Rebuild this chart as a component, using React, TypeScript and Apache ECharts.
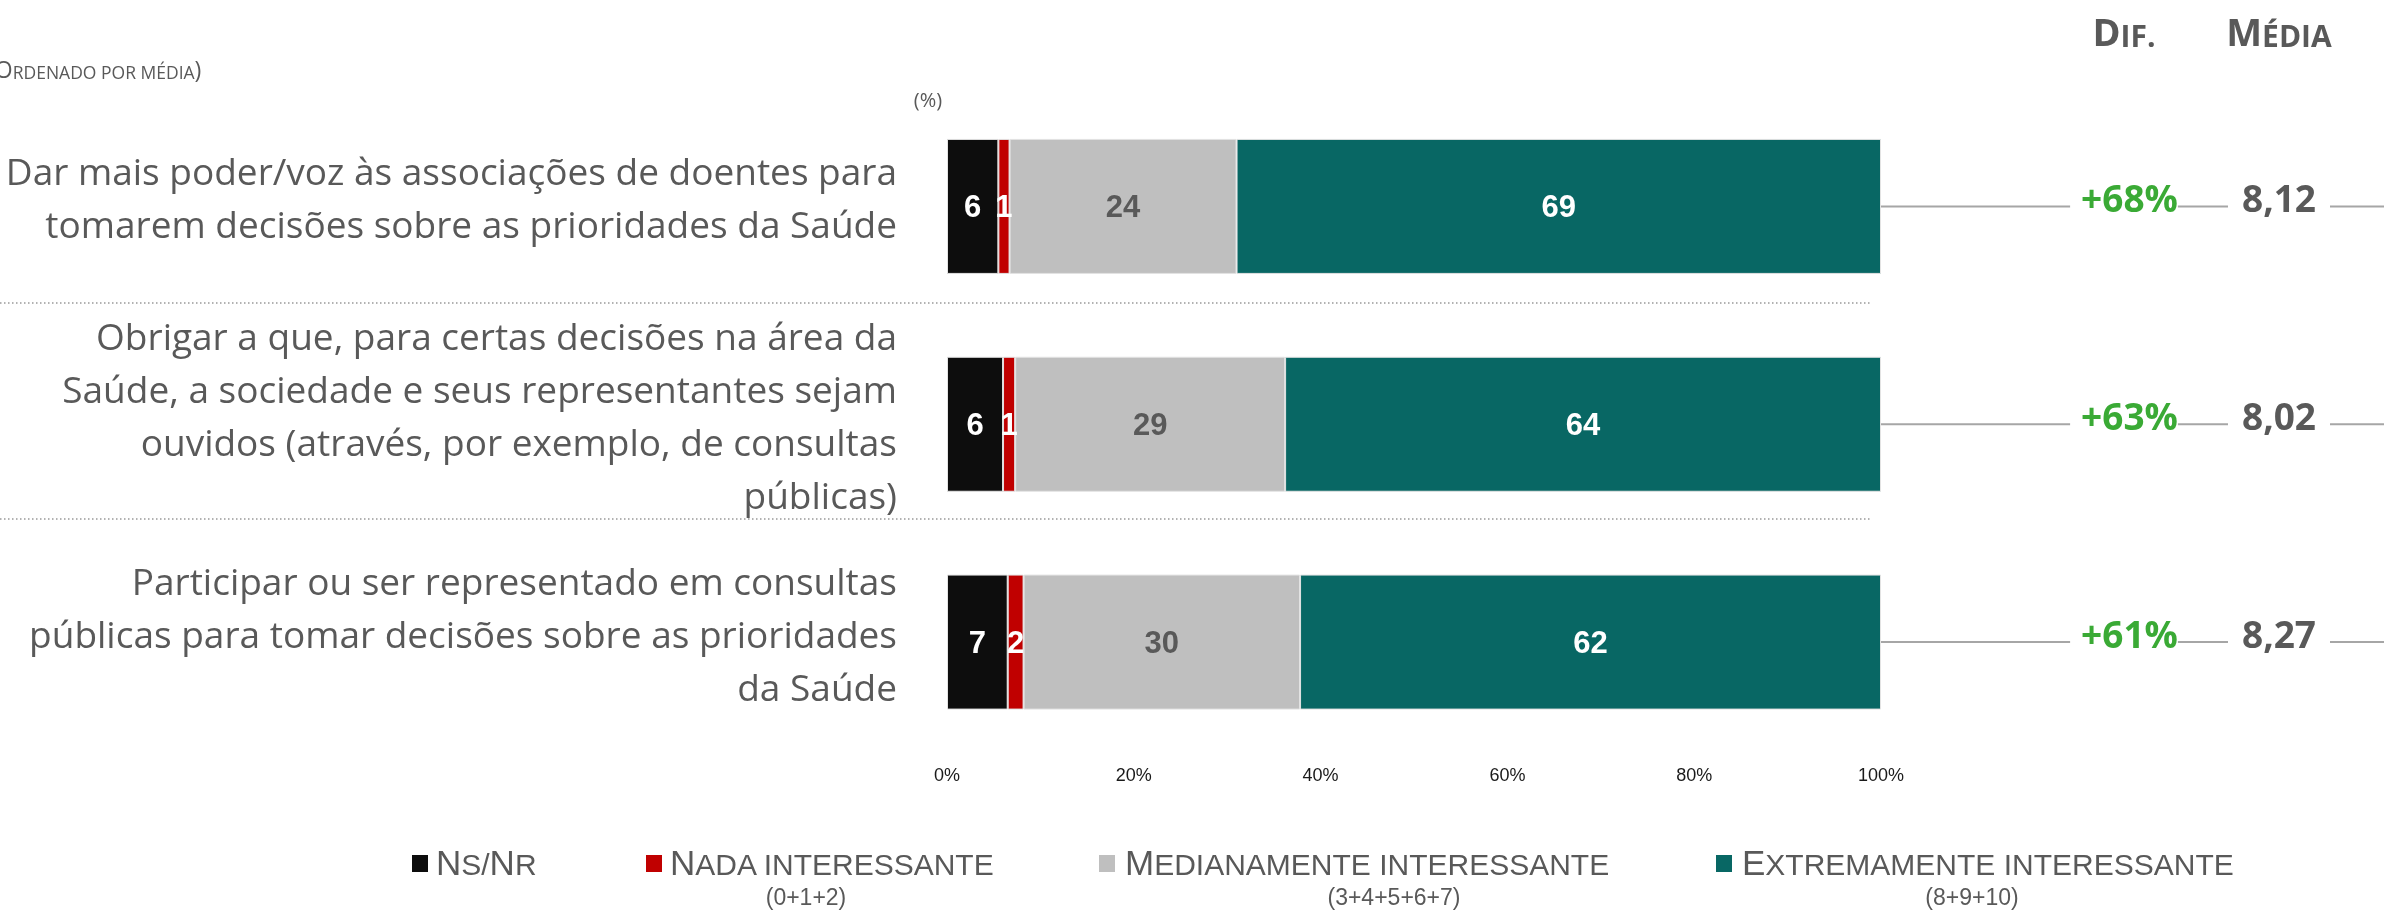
import React, { useEffect, useRef } from "react";
import * as echarts from "echarts";

// ---------- data ----------
const categoryLines: string[][] = [
  ["Dar mais poder/voz às associações de doentes para", "tomarem decisões sobre as prioridades da Saúde"],
  [
    "Obrigar a que, para certas decisões na área da",
    "Saúde, a sociedade e seus representantes sejam",
    "ouvidos (através, por exemplo, de consultas",
    "públicas)",
  ],
  ["Participar ou ser representado em consultas", "públicas para tomar decisões sobre as prioridades", "da Saúde"],
];
const categories = categoryLines.map((l) => l.join(" "));

const seriesNames = ["Ns/Nr", "Nada interessante", "Medianamente interessante", "Extremamente interessante"];
const nsnrValues = [5.5, 6.0, 6.5];
const nadaValues = [1.2, 1.3, 1.7];
const medianaValues = [24.3, 28.9, 29.6];
const extremaValues = [69.0, 63.8, 62.2];

const nsnrLabels = [6, 6, 7];
const nadaLabels = [1, 1, 2];
const medianaLabels = [24, 29, 30];
const extremaLabels = [69, 64, 62];

const difValues = ["+68%", "+63%", "+61%"];
const mediaValues = ["8,12", "8,02", "8,27"];
const xTicks = [0, 20, 40, 60, 80, 100];

const legendSubs = ["", "(0+1+2)", "(3+4+5+6+7)", "(8+9+10)"];

// ---------- styles ----------
const colors = ["#0d0d0d", "#c00000", "#bfbfbf", "#086764"];
const labelColors = ["#ffffff", "#ffffff", "#595959", "#ffffff"];
const GRAY_TEXT = "#595959";

export default function App() {
  const ref = useRef<HTMLDivElement>(null);

  useEffect(() => {
    if (!ref.current) return;
    const chart = echarts.init(ref.current, null, { renderer: "svg" });

    const valueSets = [nsnrValues, nadaValues, medianaValues, extremaValues];
    const labelSets = [nsnrLabels, nadaLabels, medianaLabels, extremaLabels];

    const series = seriesNames.map((name, si) => ({
      name,
      type: "bar",
      stack: "total",
      barWidth: 135,
      data: valueSets[si],
      itemStyle: { color: colors[si], borderColor: "#e3e3e3", borderWidth: 1 },
      label: {
        show: true,
        position: "inside",
        formatter: (p: any) => String(labelSets[si][p.dataIndex]),
        color: labelColors[si],
        fontFamily: "Liberation Sans",
        fontWeight: "bold",
        fontSize: 31,
      },
    }));

    chart.setOption({
      animation: false,
      grid: { left: 947, right: 503, top: 97.5, bottom: 161, containLabel: false },
      legend: { show: false },
      xAxis: {
        type: "value",
        min: xTicks[0],
        max: xTicks[xTicks.length - 1],
        interval: 20,
        axisLine: { show: false },
        axisTick: { show: false },
        splitLine: { show: false },
        axisLabel: {
          formatter: "{value}%",
          fontFamily: "Liberation Sans",
          fontSize: 18,
          color: "#1a1a1a",
          margin: 15,
        },
      },
      yAxis: {
        type: "category",
        inverse: true,
        data: categories,
        axisLine: { show: false },
        axisTick: { show: false },
        splitLine: { show: false },
        axisLabel: {
          interval: 0,
          margin: 50,
          fontFamily: "Open Sans",
          fontSize: 37,
          lineHeight: 53,
          color: GRAY_TEXT,
          align: "right",
          rich: { sp: { fontSize: 8, lineHeight: 18 } },
          formatter: (_v: string, i: number) => categoryLines[i].join("\n") + "\n{sp| }",
        },
      },
      series,
    });

    const xEnd = chart.convertToPixel({ xAxisIndex: 0 }, 100) as number;
    const rowYs = categories.map((_, i) => chart.convertToPixel({ yAxisIndex: 0 }, i) as number);

    const graphic: any[] = [];

    const capsRich = (big: number, small: number, color: string, family: string, weight: string) => ({
      a: { fontSize: big, lineHeight: big, fontFamily: family, fontWeight: weight, fill: color, verticalAlign: "bottom" },
      b: { fontSize: small, lineHeight: big, fontFamily: family, fontWeight: weight, fill: color, verticalAlign: "bottom" },
    });

    // header small caps
    graphic.push({
      type: "text",
      z: 10,
      style: {
        text: "{a|D}{b|IF.}",
        rich: capsRich(38, 30, GRAY_TEXT, "Open Sans", "bold"),
        x: 2124,
        y: 31,
        align: "center",
        verticalAlign: "middle",
      },
    });
    graphic.push({
      type: "text",
      z: 10,
      style: {
        text: "{a|M}{b|ÉDIA}",
        rich: capsRich(38, 30, GRAY_TEXT, "Open Sans", "bold"),
        x: 2279,
        y: 31,
        align: "center",
        verticalAlign: "middle",
      },
    });

    // subtitle
    graphic.push({
      type: "text",
      z: 10,
      style: {
        text: "{a|(O}{b|RDENADO POR MÉDIA}{a|)}",
        rich: capsRich(23, 17.5, GRAY_TEXT, "Open Sans", "normal"),
        x: -12,
        y: 69,
        align: "left",
        verticalAlign: "middle",
      },
    });

    // (%)
    graphic.push({
      type: "text",
      z: 10,
      style: {
        text: "(%)",
        x: 928,
        y: 99,
        align: "center",
        verticalAlign: "middle",
        fontFamily: "Open Sans",
        fontSize: 20,
        fill: GRAY_TEXT,
      },
    });

    // dotted separators
    [303, 519].forEach((y) => {
      graphic.push({
        type: "line",
        z: 1,
        shape: { x1: 0, y1: y, x2: 1870, y2: y },
        style: { stroke: "#999999", lineWidth: 1.5, lineDash: [1.5, 2.5] },
      });
    });

    // connectors + dif + média
    rowYs.forEach((y, i) => {
      graphic.push({
        type: "line",
        z: 1,
        shape: { x1: xEnd, y1: y, x2: 2384, y2: y },
        style: { stroke: "#a6a6a6", lineWidth: 2 },
      });
      graphic.push({
        type: "text",
        z: 10,
        style: {
          text: difValues[i],
          x: 2124,
          y: y - 9,
          align: "center",
          verticalAlign: "middle",
          fontFamily: "Open Sans",
          fontWeight: "bold",
          fontSize: 37,
          fill: "#3aaa35",
          backgroundColor: "#ffffff",
          padding: [0, 0, 0, 11],
        },
      });
      graphic.push({
        type: "text",
        z: 10,
        style: {
          text: mediaValues[i],
          x: 2279,
          y: y - 9,
          align: "center",
          verticalAlign: "middle",
          fontFamily: "Open Sans",
          fontWeight: "bold",
          fontSize: 37,
          fill: GRAY_TEXT,
          backgroundColor: "#ffffff",
          padding: [0, 14, 0, 14],
        },
      });
    });

    // legend
    const legendSquares = [412, 646, 1099, 1716];
    const legendTextX = [436, 670, 1125, 1742];
    const legendTexts = [
      "{a|N}{b|S/}{a|N}{b|R}",
      "{a|N}{b|ADA INTERESSANTE}",
      "{a|M}{b|EDIANAMENTE INTERESSANTE}",
      "{a|E}{b|XTREMAMENTE INTERESSANTE}",
    ];
    const legendSubX = [0, 806, 1394, 1972];
    seriesNames.forEach((_, i) => {
      graphic.push({
        type: "rect",
        z: 10,
        shape: { x: legendSquares[i], y: 855, width: 16, height: 17 },
        style: { fill: colors[i] },
      });
      graphic.push({
        type: "text",
        z: 10,
        style: {
          text: legendTexts[i],
          rich: capsRich(35, 30, GRAY_TEXT, "Liberation Sans", "normal"),
          x: legendTextX[i],
          y: 862,
          align: "left",
          verticalAlign: "middle",
        },
      });
      if (legendSubs[i]) {
        graphic.push({
          type: "text",
          z: 10,
          style: {
            text: legendSubs[i],
            x: legendSubX[i],
            y: 897,
            align: "center",
            verticalAlign: "middle",
            fontFamily: "Liberation Sans",
            fontSize: 23,
            fill: GRAY_TEXT,
          },
        });
      }
    });

    chart.setOption({ graphic });

    return () => chart.dispose();
  }, []);

  return <div ref={ref} style={{ position: "fixed", left: 0, top: 0, width: 2384, height: 912 }} />;
}
